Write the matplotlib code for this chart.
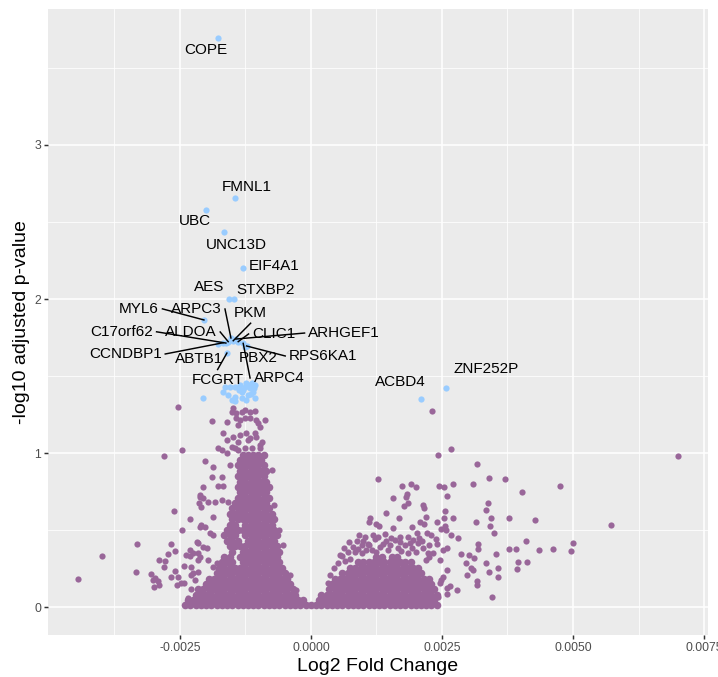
import matplotlib
matplotlib.use('Agg')
import matplotlib.pyplot as plt

plt.rcParams['font.family'] = ['Liberation Sans', 'DejaVu Sans']

# log2 fold changes are written in units of 1e-4
SCALE = 1e-4

# labelled (significant) genes
genes = ['COPE', 'FMNL1', 'UBC', 'UNC13D', 'EIF4A1', 'AES', 'STXBP2', 'MYL6',
         'ARPC3', 'PKM', 'C17orf62', 'ALDOA', 'CLIC1', 'ARHGEF1', 'CCNDBP1',
         'ABTB1', 'PBX2', 'RPS6KA1', 'FCGRT', 'ARPC4', 'ACBD4', 'ZNF252P']
gene_lfc = [-17.74, -14.41, -19.94, -16.6, -12.97, -15.65, -14.69, -20.41,
            -15.26, -14.82, -16.22, -15.78, -13.87, -14.31, -16.73,
            -17.69, -12.59, -12.27, -16.03, -12.92, 21.0, 25.82]
gene_padj = [3.695, 2.656, 2.578, 2.435, 2.201, 2.0, 2.0, 1.864,
             1.747, 1.729, 1.714, 1.723, 1.723, 1.740, 1.716,
             1.708, 1.688, 1.695, 1.649, 1.712, 1.349, 1.424]

# other significant genes (no label)
sig_lfc = [-12.3, -11.3, -10.7, -11.6, -12.6, -13.5, -14.5, -15.5, -16.4, -16.7,
           -15.8, -14.5, -13.2, -12.0, -10.7, -15.1, -20.5, -13.2, -11.0, -12.3, -14.5,
           -11.9, -12.9, -10.9, -11.4, -13.8]
sig_padj = [1.453, 1.457, 1.442, 1.42, 1.43, 1.442, 1.43, 1.43, 1.43, 1.398,
            1.377, 1.366, 1.355, 1.377, 1.355, 1.344, 1.355, 1.398, 1.398, 1.344, 1.338,
            1.44, 1.41, 1.42, 1.38, 1.41]

# non-significant genes, loose points
ns_lfc = [-44.5, -39.9, -33.1, -33.3, -26.2, -23.1, -24.6, -26.7, -25.9, -27.2,
          -29.0, -27.8, -28.0, -30.6, -29.8, -30.2, -29.2, -28.9, -29.9, -26.7,
          -25.9, -25.4, -24.2, -25.5, -24.7, -24.2, -23.1, -23.8, -23.1, -21.6,
          -21.1, -21.4, -20.9, -21.1, -20.5, -21.5, -21.5, -22.8, -22.5, -22.1,
          -22.8, -23.4, -21.4, -25.3, -18.8, -24.5, -28.0, -20.2,
          -14.8, -15.1, -14.2, -13.2, -12.6, -11.6, -10.7, -16.1, -14.2, -13.5,
          -12.6, -11.6, -10.4, -10.1, -8.8, -13.9, -9.7, -16.7, -14.8, -13.5,
          -12.3, -10.7, -10.4, -16.1, -13.9, -12.0, -11.6, -9.4, -9.7, -17.7,
          -17.0, -16.1, -15.1, -14.5, -13.9, -12.6, -11.3, -9.7, -18.6, -15.5,
          -18.9, -17.0, -17.7, -16.7, -21.2, -20.5, -19.6, -18.3, -17.0, -15.8,
          -18.6, -20.9, -20.2, -19.3, -18.6, -21.8, -20.5, -19.9, -22.5, -21.2,
          -19.6, -18.0, -18.6, -21.5, -22.8,
          -7.4, -7.1, -6.1, -5.3, -4.0, -2.9,
          12.8, 17.4, 19.1, 20.0, 24.5, 25.4, 18.3, 18.1, 15.7, 26.0,
          18.5, 17.8, 21.4, 21.6, 14.3, 16.8, 21.9, 11.3, 11.1, 12.5,
          13.0, 20.8, 21.6, 24.1, 25.4, 19.2, 15.7, 22.1, 22.9, 25.7,
          24.9, 9.2, 10.3, 11.9, 12.8, 14.1, 17.0, 18.6, 19.5, 20.2,
          23.9, 8.1, 9.7, 10.9, 6.5, 7.4, 23.2, 21.4, 21.9, 22.6,
          25.2, 25.9, 24.6, 25.9, 25.2, 24.6, 24.3, 23.7, 25.9,
          6.3, 5.5, 8.4, 9.7, 11.6, 13.2, 15.1, 16.6, 17.9, 19.3,
          20.4, 14.3, 16.0, 8.8, 5.2, 4.4, 3.6, 3.2,
          7.0, 10.5, 12.4, 14.8, 17.2, 18.6, 20.0, 22.3, 6.0, 8.9,
          11.0, 13.7, 16.9, 18.9, 21.2, 22.6, 24.0, 12.2, 10.0, 7.3,
          15.3, 20.6,
          23.1, 26.8, 24.2, 31.7, 70.0, 34.0, 37.1, 31.0, 27.2, 47.6,
          40.2, 57.3, 50.0, 49.6, 46.2, 43.6, 42.7, 41.0, 39.2, 37.7,
          41.3, 39.6, 39.4, 35.7, 35.7, 34.5, 33.9, 35.4, 33.4, 31.8,
          31.8, 31.6, 31.7, 35.0, 34.3, 34.2, 33.8, 33.4, 37.8, 31.5,
          31.1, 30.9, 30.5, 29.6, 30.2, 28.6, 29.8, 28.1, 26.8, 27.1,
          27.9, 26.5, 25.9, 24.9, 25.6, 25.5]
ns_padj = [0.182, 0.331, 0.409, 0.225, 0.621, 0.571, 0.500, 0.409, 0.366, 0.344,
           0.307, 0.297, 0.262, 0.216, 0.186, 0.175, 0.171, 0.143, 0.128, 0.193,
           0.236, 0.197, 0.268, 0.143, 0.154, 0.158, 0.370, 0.340, 0.331, 0.418,
           0.716, 0.673, 0.647, 0.518, 0.777, 0.349, 0.305, 0.262, 0.219, 0.175,
           0.115, 0.056, 0.089, 1.301, 1.210, 1.018, 0.981, 0.950,
           1.290, 1.268, 1.258, 1.268, 1.279, 1.268, 1.273, 1.203, 1.225, 1.214,
           1.225, 1.225, 1.214, 1.193, 1.214, 1.182, 1.171, 1.128, 1.106, 1.117,
           1.128, 1.128, 1.106, 1.084, 1.073, 1.084, 1.095, 1.073, 1.052, 1.031,
           1.019, 0.998, 1.041, 1.031, 1.019, 1.031, 1.031, 1.031, 0.911, 0.922,
           0.846, 0.846, 0.788, 0.788, 0.727, 0.706, 0.684, 0.684, 0.695, 0.684,
           0.586, 0.532, 0.521, 0.479, 0.468, 0.424, 0.392, 0.381, 0.349, 0.327,
           0.305, 0.284, 0.262, 0.229, 0.208,
           0.890, 0.662, 0.500, 0.403, 0.208, 0.110,
           0.829, 0.786, 0.799, 0.777, 0.786, 0.777, 0.734, 0.716, 0.706, 0.721,
           0.673, 0.656, 0.662, 0.641, 0.608, 0.580, 0.586, 0.580, 0.550, 0.537,
           0.526, 0.554, 0.537, 0.554, 0.580, 0.521, 0.511, 0.479, 0.466, 0.500,
           0.508, 0.468, 0.456, 0.466, 0.456, 0.472, 0.456, 0.456, 0.435, 0.482,
           0.440, 0.392, 0.403, 0.409, 0.301, 0.310, 0.349, 0.381, 0.305, 0.323,
           0.370, 0.381, 0.305, 0.240, 0.197, 0.154, 0.067, 0.056, 0.121,
           0.383, 0.338, 0.357, 0.351, 0.370, 0.390, 0.403, 0.383, 0.403, 0.383,
           0.416, 0.429, 0.435, 0.429, 0.286, 0.253, 0.208, 0.156,
           0.36, 0.37, 0.355, 0.37, 0.365, 0.35, 0.36, 0.35, 0.33, 0.38,
           0.405, 0.41, 0.42, 0.415, 0.43, 0.40, 0.41, 0.44, 0.43, 0.42,
           0.45, 0.45,
           1.271, 1.026, 0.987, 0.929, 0.981, 0.840, 0.831, 0.801, 0.801, 0.786,
           0.745, 0.534, 0.414, 0.366, 0.377, 0.372, 0.563, 0.431, 0.377, 0.377,
           0.290, 0.294, 0.249, 0.251, 0.193, 0.063, 0.225, 0.346, 0.284, 0.375,
           0.411, 0.167, 0.143, 0.479, 0.580, 0.526, 0.675, 0.632, 0.580, 0.550,
           0.316, 0.242, 0.255, 0.288, 0.340, 0.346, 0.208, 0.448, 0.466, 0.580,
           0.108, 0.138, 0.084, 0.175, 0.623, 0.526]

# non-significant genes, the solid core near zero: one list of fold changes per -log10 p row
dense_padj = [0.01, 0.045, 0.08, 0.115, 0.15, 0.185, 0.22, 0.255, 0.29, 0.325,
              0.36, 0.395, 0.43, 0.465, 0.50, 0.535, 0.57, 0.605, 0.64, 0.675,
              0.71, 0.745, 0.78, 0.815, 0.85, 0.885, 0.92, 0.955, 0.99]
dense_lfc = [
    [-24, -23, -22, -21, -20, -19, -18, -17, -16, -15, -14, -13, -12, -11, -10, -9, -8, -7, -6, -5, -4, -3, -2, -1,
     0, 1, 2, 3, 4, 5, 6, 7, 8, 9, 10, 11, 12, 13, 14, 15, 16, 17, 18, 19, 20, 21, 22, 23, 24],
    [-23.5, -22.5, -21.5, -20.5, -19.5, -18.5, -17.5, -16.5, -15.5, -14.5, -13.5, -12.5, -11.5, -10.5, -9.5,
     -8.5, -7.5, -6.5, -5.5, -4.5, -3.5, -2.5, -1.5, 1.5, 2.5, 3.5, 4.5, 5.5, 6.5, 7.5, 8.5, 9.5, 10.5, 11.5,
     12.5, 13.5, 14.5, 15.5, 16.5, 17.5, 18.5, 19.5, 20.5, 21.5, 22.5, 23.5],
    [-22, -21, -20, -19, -18, -17, -16, -15, -14, -13, -12, -11, -10, -9, -8, -7, -6, -5, -4, -3,
     2, 3, 4, 5, 6, 7, 8, 9, 10, 11, 12, 13, 14, 15, 16, 17, 18, 19, 20, 21, 22, 23, 24],
    [-21.5, -20.5, -19.5, -18.5, -17.5, -16.5, -15.5, -14.5, -13.5, -12.5, -11.5, -10.5, -9.5, -8.5, -7.5,
     -6.5, -5.5, -4.5, -3.5, 3.5, 4.5, 5.5, 6.5, 7.5, 8.5, 9.5, 10.5, 11.5, 12.5, 13.5, 14.5, 15.5, 16.5,
     17.5, 18.5, 19.5, 20.5, 21.5, 22.5, 23.5],
    [-20, -19, -18, -17, -16, -15, -14, -13, -12, -11, -10, -9, -8, -7, -6, -5, -4,
     4, 5, 6, 7, 8, 9, 10, 11, 12, 13, 14, 15, 16, 17, 18, 19, 20, 21, 22, 23],
    [-19.5, -18.5, -17.5, -16.5, -15.5, -14.5, -13.5, -12.5, -11.5, -10.5, -9.5, -8.5, -7.5, -6.5, -5.5, -4.5,
     4.5, 5.5, 6.5, 7.5, 8.5, 9.5, 10.5, 11.5, 12.5, 13.5, 14.5, 15.5, 16.5, 17.5, 18.5, 19.5, 20.5, 21.5, 22.5],
    [-18, -17, -16, -15, -14, -13, -12, -11, -10, -9, -8, -7, -6, -5,
     6, 7, 8, 9, 10, 11, 12, 13, 14, 15, 16, 17, 18, 19, 20, 21],
    [-17.5, -16.5, -15.5, -14.5, -13.5, -12.5, -11.5, -10.5, -9.5, -8.5, -7.5, -6.5, -5.5,
     7.5, 8.5, 9.5, 10.5, 11.5, 12.5, 13.5, 14.5, 15.5, 16.5, 17.5, 18.5, 19.5, 20.5],
    [-17, -16, -15, -13, -12, -11, -10, -9, -8, -7, -6,
     9, 10, 11, 12, 13, 14, 15, 16, 17, 18, 19],
    [-16.5, -15.5, -13.5, -12.5, -11.5, -10.5, -9.5, -8.5, -7.5, -6.5,
     12.5, 13.5, 15.5, 16.5],
    [-15, -13, -12, -11, -10, -9, -8, -7, -6],
    [-15.5, -14.5, -13.5, -12.5, -11.5, -10.5, -9.5, -8.5, -7.5, -6.5],
    [-16, -15, -14, -12, -11, -10, -9, -8, -7],
    [-16.5, -15.5, -14.5, -12.5, -11.5, -10.5, -9.5, -8.5, -7.5, -6.5],
    [-16, -15, -14, -13, -12, -11, -10, -9, -8, -7],
    [-15.5, -14.5, -12.5, -11.5, -10.5, -9.5, -8.5, -7.5],
    [-15, -14, -13, -12, -11, -10, -9, -8, -7],
    [-15.5, -14.5, -13.5, -12.5, -11.5, -10.5, -9.5, -8.5, -7.5],
    [-15, -14, -13, -12, -11, -10, -9, -8],
    [-14.5, -13.5, -12.5, -11.5, -10.5, -9.5, -8.5],
    [-14, -13, -12, -11, -10, -9, -8],
    [-13.5, -12.5, -11.5, -10.5, -9.5, -8.5],
    [-14, -13, -12, -11, -10, -9, -8],
    [-13.5, -12.5, -11.5, -10.5, -9.5, -8.5],
    [-14, -13, -12, -11, -10, -9],
    [-13.5, -12.5, -11.5, -10.5, -9.5, -8.5],
    [-14, -13, -12, -11, -10, -9],
    [-13.5, -12.5, -11.5, -10.5, -9.5],
    [-13, -12, -11, -10, -9],
]

xticks = [-0.0025, 0.0, 0.0025, 0.005, 0.0075]
xtick_labels = ['-0.0025', '0.0000', '0.0025', '0.0050', '0.0075']
yticks = [0, 1, 2, 3]

# where the repelled labels ended up (same units as the data)
label_pos = {
    'COPE': (-20.0, 3.617), 'FMNL1': (-12.3, 2.730), 'UBC': (-22.1, 2.506),
    'UNC13D': (-14.3, 2.351), 'EIF4A1': (-7.0, 2.214), 'AES': (-19.5, 2.078),
    'STXBP2': (-8.6, 2.058), 'MYL6': (-32.8, 1.936), 'ARPC3': (-21.9, 1.935),
    'PKM': (-11.5, 1.911), 'C17orf62': (-36.1, 1.787), 'ALDOA': (-22.9, 1.786),
    'CLIC1': (-7.1, 1.773), 'ARHGEF1': (6.3, 1.779), 'CCNDBP1': (-35.4, 1.643),
    'ABTB1': (-21.4, 1.610), 'PBX2': (-10.1, 1.617), 'RPS6KA1': (2.3, 1.630),
    'FCGRT': (-17.8, 1.474), 'ARPC4': (-6.1, 1.487), 'ACBD4': (17.0, 1.459),
    'ZNF252P': (33.4, 1.544),
}
with_segment = ['MYL6', 'ARPC3', 'PKM', 'C17orf62', 'ALDOA', 'CLIC1', 'ARHGEF1',
                'CCNDBP1', 'RPS6KA1', 'FCGRT', 'ARPC4']

purple = '#996699'
blue = '#99CCFF'

fig = plt.figure(figsize=(7.18, 6.77), dpi=100)
ax = fig.add_axes([0.0669, 0.0613, 0.9188, 0.9247])
ax.set_xlim(-0.005015, 0.00757)
ax.set_ylim(-0.1848, 3.8798)

# the core rows are packed, draw them a little bigger so they merge into a solid mass
for y, row in zip(dense_padj, dense_lfc):
    ax.scatter([v * SCALE for v in row], [y] * len(row), s=30, color=purple, lw=0, zorder=2)
ax.scatter([v * SCALE for v in ns_lfc], ns_padj, s=20, color=purple, lw=0, zorder=2)
ax.scatter([v * SCALE for v in sig_lfc], sig_padj, s=20, color=blue, lw=0, zorder=2)
ax.scatter([v * SCALE for v in gene_lfc], gene_padj, s=20, color=blue, lw=0, zorder=2)

texts = {}
for g in genes:
    lx, ly = label_pos[g]
    texts[g] = ax.text(lx * SCALE, ly, g, fontsize=11, ha='center', va='center',
                       color='black', zorder=4)

# ggrepel-like segments: from the closest padded edge midpoint to the point
fig.canvas.draw()
renderer = fig.canvas.get_renderer()
inv = ax.transData.inverted()
for g, gx, gy in zip(genes, gene_lfc, gene_padj):
    if g not in with_segment:
        continue
    bb = texts[g].get_window_extent(renderer)
    pad = 3.5
    cx, cy = (bb.x0 + bb.x1) / 2, (bb.y0 + bb.y1) / 2
    cands = [(bb.x0 - pad, cy), (bb.x1 + pad, cy), (cx, bb.y0 - pad), (cx, bb.y1 + pad)]
    px, py = ax.transData.transform((gx * SCALE, gy))
    sx, sy = min(cands, key=lambda c: (c[0] - px) ** 2 + (c[1] - py) ** 2)
    x0, y0 = inv.transform((sx, sy))
    ax.plot([x0, gx * SCALE], [y0, gy], color='black', lw=1.05, zorder=3)

ax.set_facecolor('#EBEBEB')
for s in ax.spines.values():
    s.set_visible(False)
ax.set_xticks(xticks)
ax.set_xticklabels(xtick_labels)
ax.set_xticks([-0.00375, -0.00125, 0.00125, 0.00375, 0.00625], minor=True)
ax.set_yticks(yticks)
ax.set_yticklabels([str(t) for t in yticks])
ax.set_yticks([0.5, 1.5, 2.5, 3.5], minor=True)
ax.grid(which='major', color='white', lw=1.1)
ax.grid(which='minor', color='white', lw=0.55)
ax.set_axisbelow(True)
ax.tick_params(which='major', length=2.75, width=1.07, color='#333333',
               labelcolor='#4D4D4D', labelsize=8.8, pad=2.2)
ax.tick_params(which='minor', length=0)

ax.set_xlabel('Log2 Fold Change', fontsize=14, labelpad=2.75)
ax.set_ylabel('-log10 adjusted p-value', fontsize=14, labelpad=2.75)

fig.savefig('out.png', dpi=100)
